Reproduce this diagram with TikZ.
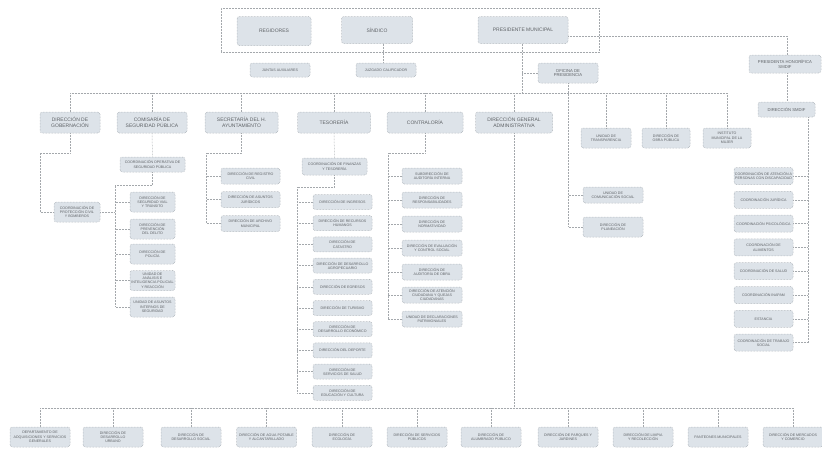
\documentclass[tikz,border=0pt]{standalone}
\usepackage{fontspec}
\setmainfont{Liberation Sans}
\definecolor{boxfill}{HTML}{DDE3E9}
\definecolor{boxline}{HTML}{9EA4AA}
\definecolor{txt}{HTML}{5E6266}
\definecolor{lnc}{HTML}{A4A8AC}
\tikzset{
 bx/.style={draw=boxline, densely dotted, line width=0.5pt, fill=boxfill, rounded corners=2.5pt, align=center, text=txt, inner sep=0.5pt},
 tb/.style={bx, font=\fontsize{5}{5.8}\selectfont},
 mb/.style={bx, font=\fontsize{4.2}{4.9}\selectfont},
 sb/.style={bx, font=\fontsize{3.6}{4.3}\selectfont},
 ln/.style={draw=lnc, densely dotted, line width=0.5pt},
}
\begin{document}
\begin{tikzpicture}[x=1pt,y=-1pt]
\useasboundingbox[fill=white] (0,0) rectangle (822,448);

% top container
\node[draw=lnc, densely dotted, line width=0.5pt, minimum width=378pt, minimum height=44pt, inner sep=0pt] (cont) at (410,30) {};
\node[tb, minimum width=74pt, minimum height=29pt] (reg) at (274,31) {REGIDORES};
\node[tb, minimum width=71pt, minimum height=27pt] (sin) at (377,30) {SÍNDICO};
\node[tb, minimum width=90pt, minimum height=27pt] (pre) at (523,30) {PRESIDENTE MUNICIPAL};

\node[sb, minimum width=60pt, minimum height=14pt] (jun) at (280,70) {JUNTAS AUXILIARES};
\node[sb, minimum width=60pt, minimum height=14pt] (juz) at (386,70) {JUZGADO CALIFICADOR};
\node[mb, minimum width=60pt, minimum height=20pt] (ofi) at (568,73) {OFICINA DE\\PRESIDENCIA};

\node[mb, minimum width=72pt, minimum height=18pt] (pdif) at (785,64) {PRESIDENTA HONORÍFICA\\SMDIF};
\node[mb, minimum width=57pt, minimum height=15pt] (ddif) at (786.5,109.5) {DIRECCIÓN SMDIF};

% first level
\node[tb, minimum width=60pt, minimum height=21pt] (gob) at (70,122.5) {DIRECCIÓN DE\\GOBERNACIÓN};
\node[tb, minimum width=70pt, minimum height=21pt] (com) at (152,122.5) {COMISARÍA DE\\SEGURIDAD PÚBLICA};
\node[tb, minimum width=73pt, minimum height=21pt] (sec) at (241.5,122.5) {SECRETARÍA DEL H.\\AYUNTAMIENTO};
\node[tb, minimum width=73pt, minimum height=21pt] (tes) at (334,122.5) {TESORERÍA};
\node[tb, minimum width=76pt, minimum height=21pt] (con) at (425,122.5) {CONTRALORÍA};
\node[tb, minimum width=77pt, minimum height=21pt] (dga) at (514,122.5) {DIRECCIÓN GENERAL\\ADMINISTRATIVA};
\node[sb, minimum width=50pt, minimum height=20pt] (utr) at (606,138) {UNIDAD DE\\TRANSPARENCIA};
\node[sb, minimum width=48pt, minimum height=20pt] (dop) at (666,138) {DIRECCIÓN DE\\OBRA PÚBLICA};
\node[sb, minimum width=48pt, minimum height=20pt] (imm) at (727,138) {INSTITUTO\\MUNICIPAL DE LA\\MUJER};

% oficina de presidencia children
\node[sb, minimum width=60pt, minimum height=16pt] (ucs) at (613,195) {UNIDAD DE\\COMUNICACIÓN SOCIAL};
\node[sb, minimum width=60pt, minimum height=20pt] (dpl) at (613,227) {DIRECCIÓN DE\\PLANEACIÓN};

% gobernacion
\node[sb, minimum width=46pt, minimum height=20pt] (pc) at (77,212) {COORDINACIÓN DE\\PROTECCIÓN CIVIL\\Y BOMBEROS};

% comisaria
\node[sb, minimum width=65pt, minimum height=15pt] (co) at (152.5,164.5) {COORDINACIÓN OPERATIVA DE\\SEGURIDAD PÚBLICA};
\foreach \i/\y/\t in {1/202/{DIRECCIÓN DE\\SEGURIDAD VIAL\\Y TRÁNSITO},2/229/{DIRECCIÓN DE\\PREVENCIÓN\\DEL DELITO},3/254/{DIRECCIÓN DE\\POLICÍA},4/280.5/{UNIDAD DE\\ANÁLISIS E\\INTELIGENCIA POLICIAL\\Y REACCIÓN},5/307/{UNIDAD DE ASUNTOS\\INTERNOS DE\\SEGURIDAD}}
  \node[sb, minimum width=45pt, minimum height=20pt] (c\i) at (152.5,\y) {\t};

% secretaria
\foreach \i/\y/\t in {1/176/{DIRECCIÓN DE REGISTRO\\CIVIL},2/199.5/{DIRECCIÓN DE ASUNTOS\\JURÍDICOS},3/223.5/{DIRECCIÓN DE ARCHIVO\\MUNICIPAL}}
  \node[sb, minimum width=59pt, minimum height=16pt] (s\i) at (250.5,\y) {\t};

% tesoreria
\node[sb, minimum width=65pt, minimum height=17pt] (cf) at (334.5,166.5) {COORDINACIÓN DE FINANZAS\\Y TESORERÍA};
\foreach \i/\y/\t in {1/202/{DIRECCIÓN DE INGRESOS},2/223.2/{DIRECCIÓN DE RECURSOS\\HUMANOS},3/244.4/{DIRECCIÓN DE\\CATASTRO},4/265.6/{DIRECCIÓN DE DESARROLLO\\AGROPECUARIO},5/286.8/{DIRECCIÓN DE EGRESOS},6/308/{DIRECCIÓN DE TURISMO},7/329.2/{DIRECCIÓN DE\\DESARROLLO ECONÓMICO},8/350.4/{DIRECCIÓN DEL DEPORTE},9/371.6/{DIRECCIÓN DE\\SERVICIOS DE SALUD},10/392.8/{DIRECCIÓN DE\\EDUCACIÓN Y CULTURA}}
  \node[sb, minimum width=59pt, minimum height=15pt] (t\i) at (342.5,\y) {\t};

% contraloria
\foreach \i/\y/\t in {1/176/{SUBDIRECCIÓN DE\\AUDITORÍA INTERNA},2/200/{DIRECCIÓN DE\\RESPONSABILIDADES},3/224/{DIRECCIÓN DE\\NORMATIVIDAD},4/248/{DIRECCIÓN DE EVALUACIÓN\\Y CONTROL SOCIAL},5/272/{DIRECCIÓN DE\\AUDITORÍA DE OBRA},6/295/{DIRECCIÓN DE ATENCIÓN\\CIUDADANA Y QUEJAS\\CIUDADANAS},7/319/{UNIDAD DE DECLARACIONES\\PATRIMONIALES}}
  \node[sb, minimum width=60pt, minimum height=16pt] (k\i) at (432,\y) {\t};

% DIF children
\foreach \i/\y/\t in {1/176/{COORDINACIÓN DE ATENCIÓN A\\PERSONAS CON DISCAPACIDAD},2/199.8/{COORDINACIÓN JURÍDICA},3/223.6/{COORDINACIÓN PSICOLÓGICA},4/247.4/{COORDINACIÓN DE\\ALIMENTOS},5/271.2/{COORDINACIÓN DE SALUD},6/295/{COORDINACIÓN INAPAM},7/318.8/{ESTANCIA},8/342.6/{COORDINACIÓN DE TRABAJO\\SOCIAL}}
  \node[sb, minimum width=59pt, minimum height=17pt] (d\i) at (763.5,\y) {\t};

% bottom row
\foreach \i/\x/\t in {1/40/{DEPARTAMENTO DE\\ADQUISICIONES Y SERVICIOS\\GENERALES},2/113/{DIRECCIÓN DE\\DESARROLLO\\URBANO},3/191/{DIRECCIÓN DE\\DESARROLLO SOCIAL},4/266.5/{DIRECCIÓN DE AGUA POTABLE\\Y ALCANTARILLADO},5/342/{DIRECCIÓN DE\\ECOLOGÍA},6/417/{DIRECCIÓN DE SERVICIOS\\PÚBLICOS},7/491/{DIRECCIÓN DE\\ALUMBRADO PÚBLICO},8/568/{DIRECCIÓN DE PARQUES Y\\JARDINES},9/643/{DIRECCIÓN DE LIMPIA\\Y RECOLECCIÓN},10/718/{PANTEONES MUNICIPALES},11/793/{DIRECCIÓN DE MERCADOS\\Y COMERCIO}}
  \node[sb, minimum width=60pt, minimum height=20pt] (b\i) at (\x,437) {\t};

% ---------- connectors ----------
\coordinate (sx) at (383,0);
\draw[ln] (sin.south -| sx) -- (juz.north -| sx);

\coordinate (pv) at (522,93);
\draw[ln] (pre.south -| pv) -- (pv);
\draw[ln] (ofi.west) -- (ofi.west -| pv);
\draw[ln] (gob.north |- pv) -- (imm.north |- pv);
\foreach \n in {gob,com,sec,tes,con,dga,utr,dop,imm}
  \draw[ln] (\n.north |- pv) -- (\n.north);

% DIF
\coordinate (dr) at (787,36);
\draw[ln] (pre.east |- dr) -- (dr) -- (pdif.north -| dr);
\draw[ln] (pdif.south -| dr) -- (ddif.north -| dr);
\coordinate (dv) at (808,342.6);
\draw[ln] (ddif.south -| dv) -- (dv);
\foreach \i in {1,...,8} \draw[ln] (d\i.east) -- (d\i.east -| dv);

% oficina
\coordinate (ov) at (568,227);
\draw[ln] (ofi.south) -- (ov);
\draw[ln] (ucs.west) -- (ucs.west -| ov);
\draw[ln] (dpl.west) -- (dpl.west -| ov);

% gobernacion
\coordinate (g1) at (70,153);
\coordinate (g2) at (40,153);
\draw[ln] (gob.south) -- (g1) -- (g2) -- (g2 |- pc.west) -- (pc.west);
\coordinate (cv) at (115,185);
\draw[ln] (pc.east) -- (pc.east -| cv);

% comisaria
\draw[ln] (com.south) -- (co.north);
\draw[ln] (co.south) -- (co.south |- cv) -- (cv) -- (cv |- c5.west);
\foreach \i in {1,...,5} \draw[ln] (c\i.west) -- (c\i.west -| cv);

% secretaria
\coordinate (sv) at (206,153);
\draw[ln] (sec.south) -- (sec.south |- sv) -- (sv) -- (sv |- s3.west);
\foreach \i in {1,...,3} \draw[ln] (s\i.west) -- (s\i.west -| sv);

% tesoreria
\draw[ln] (tes.south) -- (cf.north);
\coordinate (tv) at (297,187);
\draw[ln] (cf.south) -- (cf.south |- tv) -- (tv) -- (tv |- t10.west);
\foreach \i in {1,...,10} \draw[ln] (t\i.west) -- (t\i.west -| tv);

% contraloria
\coordinate (kv) at (388,153);
\draw[ln] (con.south) -- (con.south |- kv) -- (kv) -- (kv |- k7.west);
\foreach \i in {1,...,7} \draw[ln] (k\i.west) -- (k\i.west -| kv);

% direccion general administrativa
\coordinate (bb) at (514,408);
\draw[ln] (dga.south) -- (dga.south |- bb);
\draw[ln] (b1.north |- bb) -- (b11.north |- bb);
\foreach \i in {1,...,11} \draw[ln] (b\i.north |- bb) -- (b\i.north);
\end{tikzpicture}
\end{document}
